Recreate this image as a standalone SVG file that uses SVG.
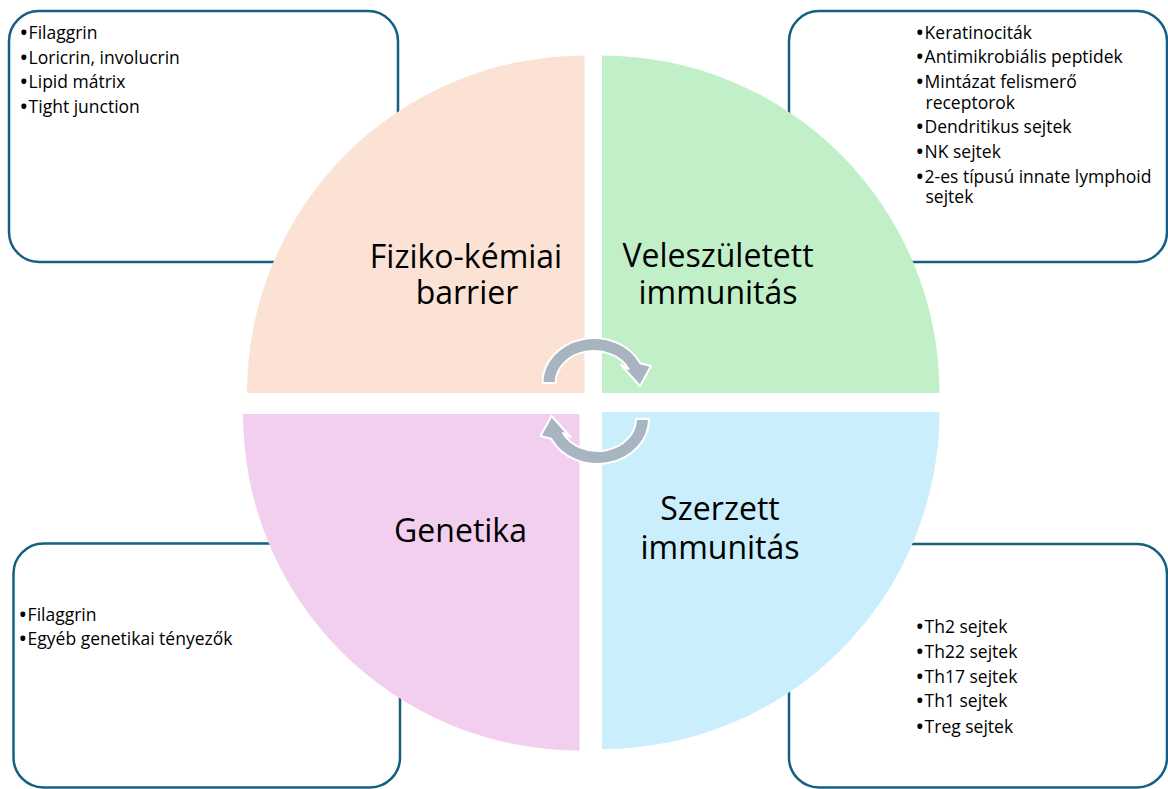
<svg xmlns="http://www.w3.org/2000/svg" width="1168" height="789" viewBox="0 0 1168 789">
<style>
.box{fill:#fff;stroke:#156082;stroke-width:2.5}
.lst{font-family:"Open Sans","Liberation Sans",sans-serif;font-size:17.5px;fill:#000}
.b{font-weight:700}
.big{font-family:"Open Sans","Liberation Sans",sans-serif;font-size:32px;fill:#000;text-anchor:middle}
.arr{fill:#A8B4C0;stroke:#fff;stroke-width:2;stroke-linejoin:round}
</style>
<rect width="1168" height="789" fill="#fff"/>
<g id="box-tl"><rect class="box" x="9" y="11" width="389" height="251" rx="30"/></g>
<g id="box-tr"><rect class="box" x="789" y="11" width="378" height="251" rx="30"/></g>
<g id="box-bl"><rect class="box" x="13.5" y="543.5" width="386.5" height="244" rx="30"/></g>
<g id="box-br"><rect class="box" x="789" y="544" width="378" height="243.5" rx="30"/></g>
<g id="q-tl">
<path d="M584.5,393 L247,393 A337.5,337.5 0 0 1 584.5,55.5 Z" fill="#FBE2D5"/>
<text class="big" x="466" y="268">Fiziko-kémiai</text>
<text class="big" x="467" y="304">barrier</text>
</g>
<g id="q-tr">
<path d="M602,393 L602,55.5 A337.5,337.5 0 0 1 939.5,393 Z" fill="#C1F0C8"/>
<text class="big" x="718" y="267">Veleszületett</text>
<text class="big" x="718" y="304">immunitás</text>
</g>
<g id="q-bl">
<path d="M579.5,414 L579.5,750.5 A336.5,336.5 0 0 1 243,414 Z" fill="#F2CFEE"/>
<text class="big" x="460.5" y="542">Genetika</text>
</g>
<g id="q-br">
<path d="M602,412 L939.5,412 A337.5,337.5 0 0 1 602,749 Z" fill="#CAEEFB"/>
<text class="big" x="720" y="520">Szerzett</text>
<text class="big" x="720" y="559">immunitás</text>
</g>
<g id="connectors">
<path id="arrow-up" class="arr" d="M542.5,383 A51.5,45 0 0 1 640.3,363.3 L651,366 L640,386 L621,365 L628.6,369 A38.5,32 0 0 0 555.5,383 Z"/>
<path id="arrow-down" class="arr" transform="rotate(180 595.75 401)" d="M542.5,383 A51.5,45 0 0 1 640.3,363.3 L651,366 L640,386 L621,365 L628.6,369 A38.5,32 0 0 0 555.5,383 Z"/>
</g>
<g id="list-tl" class="lst">
<text x="20.5" y="39.3"><tspan class="b">•</tspan><tspan dx="1.5">Filaggrin</tspan></text>
<text x="20.5" y="63.7"><tspan class="b">•</tspan><tspan dx="1.5">Loricrin, involucrin</tspan></text>
<text x="20.5" y="88.1"><tspan class="b">•</tspan><tspan dx="1.5">Lipid mátrix</tspan></text>
<text x="20.5" y="112.5"><tspan class="b">•</tspan><tspan dx="1.5">Tight junction</tspan></text>
</g>
<g id="list-tr" class="lst">
<text x="916.5" y="38.5"><tspan class="b">•</tspan><tspan dx="1.5">Keratinociták</tspan></text>
<text x="916.5" y="63.3"><tspan class="b">•</tspan><tspan dx="1.5">Antimikrobiális peptidek</tspan></text>
<text x="916.5" y="88.3"><tspan class="b">•</tspan><tspan dx="1.5">Mintázat felismerő</tspan></text>
<text x="925.5" y="108.5">receptorok</text>
<text x="916.5" y="133.3"><tspan class="b">•</tspan><tspan dx="1.5">Dendritikus sejtek</tspan></text>
<text x="916.5" y="157.8"><tspan class="b">•</tspan><tspan dx="1.5">NK sejtek</tspan></text>
<text x="916.5" y="183.3"><tspan class="b">•</tspan><tspan dx="1.5">2-es típusú innate lymphoid</tspan></text>
<text x="925.5" y="202.5">sejtek</text>
</g>
<g id="list-bl" class="lst">
<text x="19.5" y="620.7"><tspan class="b">•</tspan><tspan dx="1.5">Filaggrin</tspan></text>
<text x="19.5" y="645"><tspan class="b">•</tspan><tspan dx="1.5">Egyéb genetikai tényezők</tspan></text>
</g>
<g id="list-br" class="lst">
<text x="916.5" y="633.3"><tspan class="b">•</tspan><tspan dx="1.5">Th2 sejtek</tspan></text>
<text x="916.5" y="657.7"><tspan class="b">•</tspan><tspan dx="1.5">Th22 sejtek</tspan></text>
<text x="916.5" y="683.3"><tspan class="b">•</tspan><tspan dx="1.5">Th17 sejtek</tspan></text>
<text x="916.5" y="707.3"><tspan class="b">•</tspan><tspan dx="1.5">Th1 sejtek</tspan></text>
<text x="916.5" y="732.7"><tspan class="b">•</tspan><tspan dx="1.5">Treg sejtek</tspan></text>
</g>
</svg>
